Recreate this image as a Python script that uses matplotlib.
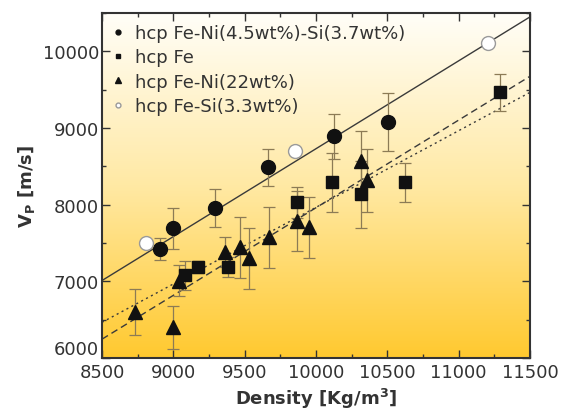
import numpy as np
import matplotlib.pyplot as plt
from matplotlib.colors import LinearSegmentedColormap
from matplotlib.ticker import MultipleLocator

# hcp Fe-Ni(4.5wt%)-Si(3.7wt%)
fenisi_density = [8910, 9000, 9295, 9665, 10125, 10505]
fenisi_vp = [7420, 7690, 7955, 8485, 8890, 9075]
fenisi_err = [140, 270, 250, 240, 290, 380]

# hcp Fe
fe_density = [9085, 9175, 9385, 9865, 10115, 10315, 10625, 11290]
fe_vp = [7080, 7185, 7185, 8030, 8290, 8135, 8290, 9465]
fe_err = [190, 75, 130, 200, 390, 440, 260, 240]

# hcp Fe-Ni(22wt%)
feni_density = [8730, 9000, 9040, 9365, 9465, 9530, 9670, 9865, 9950, 10315, 10360]
feni_vp = [6600, 6400, 7010, 7380, 7445, 7300, 7575, 7785, 7705, 8565, 8320]
feni_err = [300, 280, 200, 195, 400, 400, 400, 390, 400, 390, 410]

# hcp Fe-Si(3.3wt%)
fesi_density = [8810, 9855, 11205]
fesi_vp = [7505, 8695, 10105]

# Birch's law lines, values at the two ends of the density axis
line_density = [8500, 11500]
line_solid = [7010, 10450]
line_dashed = [6245, 9675]
line_dotted = [6465, 9465]

labels = ['hcp Fe-Ni(4.5wt%)-Si(3.7wt%)', 'hcp Fe', 'hcp Fe-Ni(22wt%)', 'hcp Fe-Si(3.3wt%)']

plt.rcParams['font.family'] = ['DejaVu Sans']
fig = plt.figure(figsize=(5.62, 4.14), dpi=100)
ax = fig.add_axes([0.1815, 0.133, 0.7615, 0.833])

# white (top) to yellow (bottom) gradient background
cmap = LinearSegmentedColormap.from_list('bg', ['#fffef8', '#ffe9a4', '#ffc92f'])
grad = np.linspace(0, 1, 256).reshape(-1, 1)
ax.imshow(grad, extent=[8500, 11500, 6000, 10500], origin='upper', aspect='auto', cmap=cmap, zorder=0)

ax.plot(line_density, line_solid, color='#3a3a3a', lw=1.0, ls='-', zorder=2)
ax.plot(line_density, line_dashed, color='#3a3a3a', lw=1.0, ls=(0, (5, 3)), zorder=2)
ax.plot(line_density, line_dotted, color='#3a3a3a', lw=1.0, ls=(0, (1.5, 2.5)), zorder=2)

ebar = dict(fmt='none', ecolor='#8c7b55', elinewidth=0.9, capsize=4, capthick=0.9, zorder=3)
ax.errorbar(fenisi_density, fenisi_vp, yerr=fenisi_err, **ebar)
ax.errorbar(fe_density, fe_vp, yerr=fe_err, **ebar)
ax.errorbar(feni_density, feni_vp, yerr=feni_err, **ebar)

h1, = ax.plot(fenisi_density, fenisi_vp, 'o', ms=10, color='#111111', zorder=4)
h2, = ax.plot(fe_density, fe_vp, 's', ms=9, color='#111111', zorder=4)
h3, = ax.plot(feni_density, feni_vp, '^', ms=10.5, color='#111111', zorder=4)
h4, = ax.plot(fesi_density, fesi_vp, 'o', ms=10, mfc='white', mec='#9a9a9a', mew=1.0, zorder=4)

ax.legend([h1, h2, h3, h4], labels, loc='upper left', frameon=False, fontsize=13,
          markerscale=0.35, handlelength=0.6, handletextpad=0.6, labelspacing=0.35,
          borderaxespad=0.2, labelcolor='#333333')

ax.set_xlim(8500, 11500)
ax.set_ylim(6000, 10500)
ax.xaxis.set_major_locator(MultipleLocator(500))
ax.xaxis.set_minor_locator(MultipleLocator(250))
ax.yaxis.set_major_locator(MultipleLocator(1000))
ax.yaxis.set_minor_locator(MultipleLocator(500))
ax.tick_params(which='both', direction='in', top=True, right=True, colors='#333333',
               labelsize=13, width=1.0)
ax.tick_params(which='major', length=6)
ax.tick_params(which='minor', length=3)
ax.tick_params(axis='y', pad=2)
for s in ax.spines.values():
    s.set_color('#333333')
    s.set_linewidth(1.5)

ax.set_xlabel('Density [Kg/m$^\\mathbf{3}$]', fontsize=13, fontweight='bold', color='#333333', labelpad=4)
ax.set_ylabel('V$_\\mathbf{P}$ [m/s]', fontsize=13, fontweight='bold', color='#333333', labelpad=4)

# the lowest y label sits a little higher so it clears the 8500 label
fig.canvas.draw()
for tick in ax.yaxis.get_major_ticks():
    if abs(tick.get_loc() - 6000) < 1:
        tick.label1.set_verticalalignment('bottom')

fig.savefig('out.png', dpi=100)
